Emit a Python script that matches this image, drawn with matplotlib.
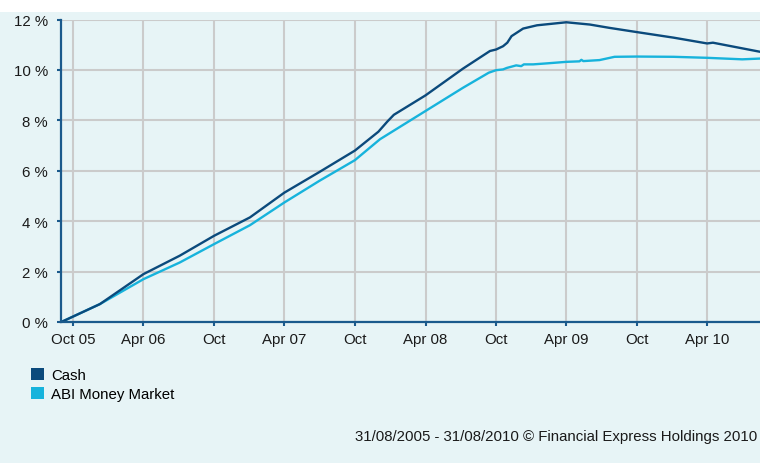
import numpy as np
import matplotlib
matplotlib.use("Agg")
import matplotlib.pyplot as plt
import matplotlib.dates as mdates
from matplotlib.patches import Patch, Rectangle

plt.rcParams['font.family'] = ['Liberation Sans', 'DejaVu Sans']

cash_dates = ["2005-08-31", "2005-12-09", "2006-04-01", "2006-07-04", "2006-10-01",
              "2007-01-02", "2007-04-01", "2007-07-01", "2007-10-01", "2007-12-01",
              "2007-12-24", "2008-01-10", "2008-04-01", "2008-07-07", "2008-09-15",
              "2008-10-01", "2008-10-19", "2008-10-30", "2008-11-10", "2008-12-10",
              "2009-01-15", "2009-04-01", "2009-06-01", "2009-07-21", "2009-10-01",
              "2010-01-04", "2010-04-01", "2010-04-16", "2010-06-16", "2010-08-16",
              "2010-08-31"]
cash_values = [0.0, 0.71, 1.9, 2.63, 3.42,
               4.15, 5.13, 5.95, 6.8, 7.55,
               7.95, 8.22, 8.99, 10.05, 10.75,
               10.81, 10.94, 11.08, 11.34, 11.64,
               11.77, 11.89, 11.8, 11.67, 11.5,
               11.28, 11.05, 11.08, 10.9, 10.72,
               10.68]

abi_dates = ["2005-08-31", "2005-12-09", "2006-04-01", "2006-07-04", "2006-10-01",
             "2007-01-02", "2007-04-01", "2007-07-01", "2007-10-01", "2007-12-05",
             "2008-04-01", "2008-07-07", "2008-09-12", "2008-10-01", "2008-10-19",
             "2008-10-29", "2008-11-15", "2008-11-22", "2008-12-05", "2008-12-12",
             "2009-01-05", "2009-02-10", "2009-04-01", "2009-05-05", "2009-05-10",
             "2009-05-15", "2009-06-26", "2009-08-04", "2009-10-01", "2010-01-04",
             "2010-04-01", "2010-07-01", "2010-08-16", "2010-08-31"]
abi_values = [0.0, 0.71, 1.7, 2.36, 3.09,
              3.84, 4.74, 5.6, 6.42, 7.25,
              8.37, 9.29, 9.89, 9.99, 10.02,
              10.08, 10.15, 10.18, 10.15, 10.22,
              10.22, 10.26, 10.32, 10.34, 10.4,
              10.35, 10.39, 10.52, 10.53, 10.52,
              10.48, 10.42, 10.45, 10.45]

tick_dates = ["2005-10-01", "2006-04-01", "2006-10-01", "2007-04-01", "2007-10-01",
              "2008-04-01", "2008-10-01", "2009-04-01", "2009-10-01", "2010-04-01"]
tick_labels = ["Oct 05", "Apr 06", "Oct", "Apr 07", "Oct", "Apr 08", "Oct",
               "Apr 09", "Oct", "Apr 10"]
y_ticks = [0, 2, 4, 6, 8, 10, 12]
series_names = ["Cash", "ABI Money Market"]
series_colors = ["#0b4a7c", "#17b3dc"]

BG = "#e7f4f6"
AXC = "#1b5a8c"
GRID = "#cbcbcb"
FS = 10.8

fig = plt.figure(figsize=(7.6, 4.64), dpi=100, facecolor="white")
fig.patches.append(Rectangle((0, 0), 1, (464 - 13) / 464, transform=fig.transFigure,
                             facecolor=BG, edgecolor="none", zorder=-10))

ax = fig.add_axes([61.3 / 760, (464 - 323) / 464, 1 - 61.3 / 760, 302.5 / 464])
ax.set_facecolor(BG)

to_num = lambda ds: mdates.date2num(np.array(ds, dtype="datetime64[D]"))

ax.plot(to_num(cash_dates), cash_values, color=series_colors[0], lw=1.7, zorder=3)
ax.plot(to_num(abi_dates), abi_values, color=series_colors[1], lw=1.7, zorder=2)

ax.set_xlim(to_num(["2005-08-31"])[0], to_num(["2010-08-16"])[0])
ax.set_ylim(0, 12)
ax.set_xticks(to_num(tick_dates))
ax.set_xticklabels(tick_labels)
ax.set_yticks(y_ticks)
ax.set_yticklabels([f"{v} %" for v in y_ticks])

ax.grid(True, color=GRID, lw=1.5, zorder=0)
ax.set_axisbelow(True)
for s in ["top", "right"]:
    ax.spines[s].set_visible(False)
for s in ["left", "bottom"]:
    ax.spines[s].set_color(AXC)
    ax.spines[s].set_linewidth(1.6)
    ax.spines[s].set_zorder(5)
ax.tick_params(axis="both", colors=AXC, length=3, width=1.5, labelcolor="#1a1a1a",
               labelsize=FS)
ax.tick_params(axis="y", pad=6.5)
ax.tick_params(axis="x", pad=4)

handles = [Patch(facecolor=c, edgecolor="none") for c in series_colors]
fig.legend(handles, series_names, loc="upper left",
           bbox_to_anchor=(29 / 760, 1 - 367 / 464), frameon=False,
           fontsize=FS, handlelength=0.82, handleheight=0.82, handletextpad=0.5,
           labelspacing=0.32, borderpad=0.15, borderaxespad=0)

fig.text(757 / 760, 1 - 437 / 464,
         "31/08/2005 - 31/08/2010 \u00a9 Financial Express Holdings 2010",
         ha="right", va="center", fontsize=FS, color="#1a1a1a")

fig.savefig("out.png", dpi=100, facecolor="white")
